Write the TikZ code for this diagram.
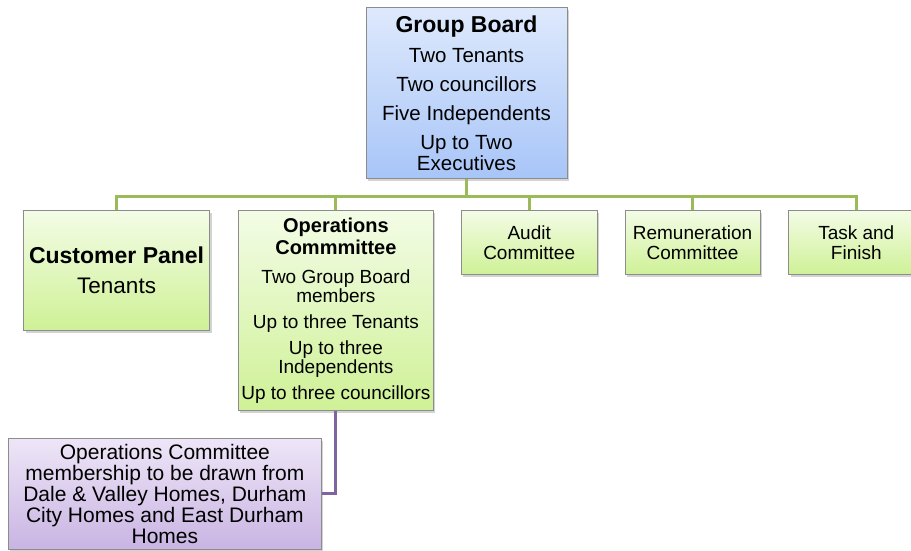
\documentclass[tikz,border=0pt]{standalone}
\usepackage{fontspec}
\setmainfont{Liberation Sans}
\usepackage{tikz}
\usetikzlibrary{positioning,shadows}
\newcommand{\headline}[2]{{\fontsize{#1}{#1}\selectfont\bfseries #2}}
\definecolor{bluetop}{RGB}{222, 233, 252}
\definecolor{bluebot}{RGB}{168, 197, 248}
\definecolor{greentop}{RGB}{243, 252, 230}
\definecolor{greenbot}{RGB}{207, 241, 150}
\definecolor{violettop}{RGB}{238, 230, 247}
\definecolor{violetbot}{RGB}{201, 180, 227}
\definecolor{green}{RGB}{155, 187, 89}
\definecolor{violet}{RGB}{128, 100, 162}
\definecolor{frame}{RGB}{140, 140, 140}
\tikzstyle{box} = [rectangle, draw=frame, line width=0.8pt, align=center, inner sep=1pt, text=black, drop shadow={opacity=0.35, shadow xshift=2pt, shadow yshift=-2.5pt}]
\tikzstyle{board} = [box, top color=bluetop, bottom color=bluebot, minimum width=201pt, minimum height=171pt, font=\fontsize{20.5}{21}\selectfont]
\tikzstyle{sub} = [box, top color=greentop, bottom color=greenbot, minimum width=135pt, minimum height=64pt, font=\fontsize{19}{20}\selectfont]
\tikzstyle{note} = [box, top color=violettop, bottom color=violetbot, minimum width=313pt, minimum height=111pt, font=\fontsize{21}{20.8}\selectfont]
\tikzstyle{link} = [draw=green, line width=3pt]
\tikzstyle{vlink} = [draw=violet, line width=3pt]

\begin{document}
\begin{tikzpicture}[x=1pt, y=-1pt]
\useasboundingbox (0,0) rectangle (911,551);

% Group board =============================
\node[board, anchor=north] (gb) at (466.5,7) {\headline{23}{Group Board}\\[9pt]
  Two Tenants\\[8pt] Two councillors\\[8pt] Five Independents\\[8pt] Up to Two\\ Executives};

% committees =============================
\node[sub, anchor=north west, minimum width=195pt, minimum height=200pt, font=\fontsize{19}{19}\selectfont] (ops) at (238,210) {\headline{20}{Operations}\\[3pt]
  \headline{20}{Commmittee}\\[10pt] Two Group Board\\ members\\[7pt] Up to three Tenants\\[7pt]
  Up to three\\ Independents\\[7pt] Up to three councillors};
\node[sub, left=28pt of ops.north west, anchor=north east, minimum width=186pt, minimum height=120pt] (panel) {\headline{23}{Customer Panel}\\[10pt] \fontsize{22.5}{22}\selectfont Tenants};
\node[sub, right=27pt of ops.north east, anchor=north west, minimum width=136pt] (audit) {Audit\\ Committee};
\node[sub, right=27pt of audit.north east, anchor=north west] (remun) {Remuneration\\ Committee};
\node[sub, right=28pt of remun.north east, anchor=north west] (task) {Task and\\ Finish};

% membership note
\node[note, anchor=north west] (members) at (8,438) {Operations Committee\\ membership to be drawn from\\
  Dale \& Valley Homes, Durham\\ City Homes and East Durham\\ Homes};

% edges
\path[link] (gb.south) -- ++(0,18) -| (panel.north);
\path[link] (gb.south) -- ++(0,18) -| (ops.north);
\path[link] (gb.south) -- ++(0,18) -| (audit.north);
\path[link] (gb.south) -- ++(0,18) -| (remun.north);
\path[link] (gb.south) -- ++(0,18) -| (task.north);
\path[vlink] (ops.south) |- (members.east);

\end{tikzpicture}
\end{document}
